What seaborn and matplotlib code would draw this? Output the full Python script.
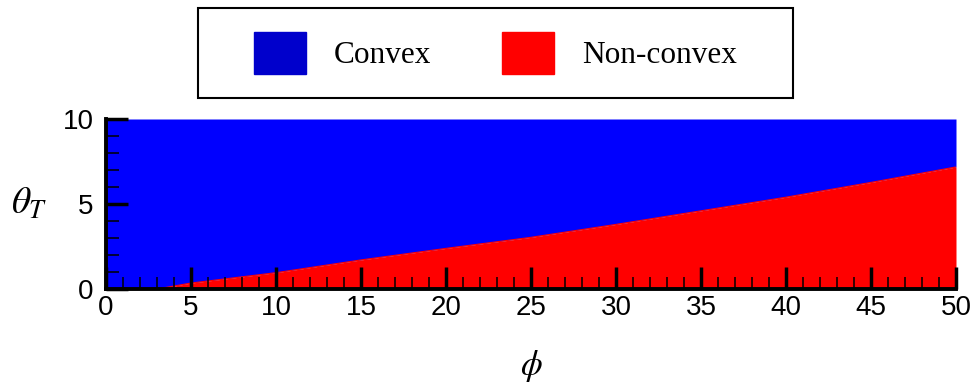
import matplotlib
matplotlib.use("Agg")
import matplotlib.pyplot as plt
from matplotlib.patches import Patch, Rectangle
from matplotlib.ticker import MultipleLocator
import seaborn as sns

# boundary between convex / non-convex region
phi = [0, 3, 5, 10, 15, 20, 25, 30, 35, 40, 45, 50]
theta_t = [0, 0, 0.35, 0.96, 1.71, 2.39, 3.04, 3.8, 4.6, 5.4, 6.27, 7.18]
labels = ["Convex", "Non-convex"]
colors = ["#0000FF", "#FF0000"]
legend_colors = ["#0000CC", "#FF0000"]

sns.set_style("ticks")
plt.rcParams["font.family"] = ["Liberation Sans", "DejaVu Sans"]
plt.rcParams["mathtext.fontset"] = "stix"
plt.rcParams["text.color"] = "black"
plt.rcParams["axes.labelcolor"] = "black"
plt.rcParams["xtick.color"] = "black"
plt.rcParams["ytick.color"] = "black"

fig = plt.figure(figsize=(9.76, 3.83), dpi=100)
ax = fig.add_axes([106 / 976, 94 / 383, 850 / 976, 170 / 383])
ax.set_axisbelow(False)

# regions
ax.fill_between(phi, theta_t, 10, color=colors[0], lw=0)
ax.fill_between(phi, 0, theta_t, color=colors[1], lw=0)
sns.lineplot(x=phi, y=theta_t, color=colors[1], lw=0.8, ax=ax)

ax.set_xlim(0, 50)
ax.set_ylim(0, 10)
ax.xaxis.set_major_locator(MultipleLocator(5))
ax.xaxis.set_minor_locator(MultipleLocator(1))
ax.yaxis.set_major_locator(MultipleLocator(5))
ax.yaxis.set_minor_locator(MultipleLocator(1))

for s in ["top", "right"]:
    ax.spines[s].set_visible(False)
for s in ["left", "bottom"]:
    ax.spines[s].set_linewidth(2.8)
    ax.spines[s].set_color("black")
    ax.spines[s].set_zorder(5)

ax.tick_params(which="major", direction="in", length=16, width=2.5,
               color="black", labelsize=20, labelcolor="black")
ax.tick_params(which="minor", direction="in", length=9, width=1.1, color="black")
ax.tick_params(axis="x", which="major", pad=4)
ax.tick_params(axis="y", which="major", pad=9)
for t in ax.get_xticklines() + ax.get_yticklines():
    t.set_clip_on(False)

ax.set_xlabel(r"$\phi$", fontsize=25, labelpad=20)
ax.set_ylabel(r"$\theta_T$", fontsize=27, rotation=0, labelpad=24, va="center")

# legend box above the plot
fig.patches.append(Rectangle((198 / 976, 1 - 98 / 383), 595 / 976, 90 / 383,
                             transform=fig.transFigure, fill=False,
                             edgecolor="black", lw=1.5))
handles = [Patch(facecolor=c, edgecolor=c) for c in legend_colors]
fig.legend(handles, labels, loc="center", bbox_to_anchor=(495.5 / 976, 1 - 53 / 383),
           ncol=2, frameon=False, handlelength=1.66, handleheight=1.7,
           handletextpad=0.9, columnspacing=2.25, labelcolor="black",
           prop={"family": "Liberation Serif", "size": 22.5})

fig.savefig("out.png", dpi=100)
